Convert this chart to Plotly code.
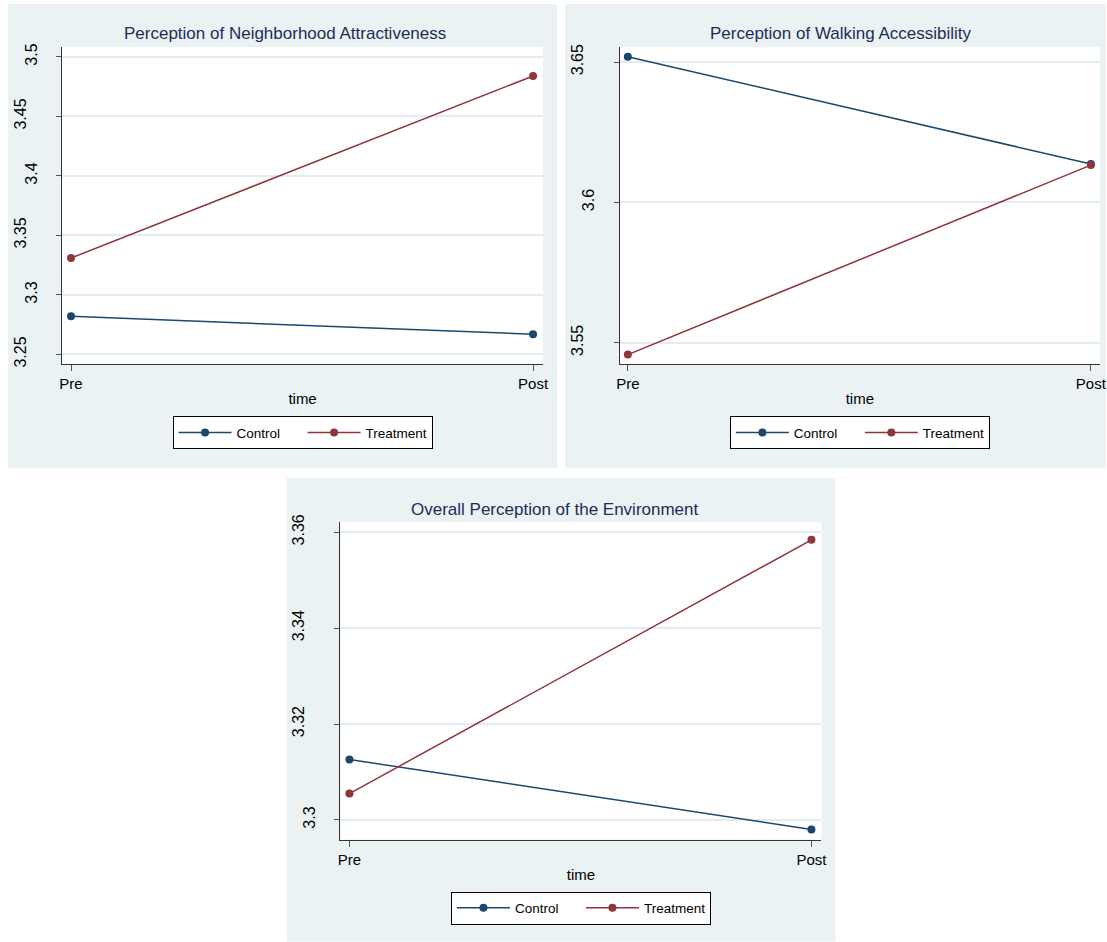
import plotly.graph_objects as go

W, H = 1107, 942

time_labels = ["Pre", "Post"]
time_pos = [0, 1]
groups = ["Control", "Treatment"]

titles = ["Perception of Neighborhood Attractiveness",
          "Perception of Walking Accessibility",
          "Overall Perception of the Environment"]

attract_control = [3.282, 3.267]
attract_treatment = [3.331, 3.484]
walk_control = [3.6519, 3.6137]
walk_treatment = [3.5458, 3.6133]
overall_control = [3.3126, 3.298]
overall_treatment = [3.3055, 3.3584]

y_ticks_1 = [3.25, 3.3, 3.35, 3.4, 3.45, 3.5]
y_ticks_2 = [3.55, 3.6, 3.65]
y_ticks_3 = [3.3, 3.32, 3.34, 3.36]

NAVY = "#1a476f"
MAROON = "#90353b"
BG = "#eaf2f3"
FONT = "Liberation Sans, Arial, sans-serif"

# layout geometry in (screen) pixels
panels = [
    dict(bg=(7, 3, 557, 468), plot=(61, 46, 543, 364), yr=[3.2416, 3.5084],
         xr=[-0.0194, 1.0216], title_x=284, title_y=33, ticks=y_ticks_1,
         legend_top=416, data=(attract_control, attract_treatment)),
    dict(bg=(565, 3, 1107, 468), plot=(620, 46, 1101, 364), yr=[3.5423, 3.6554],
         xr=[-0.0172, 1.0194], title_x=842, title_y=33, ticks=y_ticks_2,
         legend_top=416, data=(walk_control, walk_treatment)),
    dict(bg=(286, 478, 836, 942), plot=(340, 522, 822, 840), yr=[3.2959, 3.3621],
         xr=[-0.0194, 1.0216], title_x=555, title_y=509, ticks=y_ticks_3,
         legend_top=892, data=(overall_control, overall_treatment)),
]

# the photographed page maps figure px -> screen px slightly; invert it
OX, SX = 2.8, 0.9922
OY, SY = 7.0, 0.99


def px_x(x):
    return ((x - OX) / SX) / W


def px_y(y):
    return 1 - ((y - OY) / SY) / H


def label(t):
    return f"{t:g}"


fig = go.Figure()
shapes = []
annotations = []
layout_extra = {}

for i, p in enumerate(panels):
    n = "" if i == 0 else str(i + 1)
    xa, ya = "x" + n, "y" + n
    yov = "y" + str(i + 4)
    leg = "legend" + n
    bx0, by0, bx1, by1 = p["bg"]
    px0, py0, px1, py1 = p["plot"]
    shapes.append(dict(type="rect", xref="paper", yref="paper", layer="below",
                       x0=px_x(bx0), x1=px_x(bx1), y0=px_y(by1), y1=px_y(by0),
                       fillcolor=BG, line=dict(width=0)))
    shapes.append(dict(type="rect", xref="paper", yref="paper", layer="below",
                       x0=px_x(px0), x1=px_x(px1), y0=px_y(py1), y1=px_y(py0),
                       fillcolor="white", line=dict(width=0)))
    ctrl, trt = p["data"]
    for name, vals, col in [(groups[0], ctrl, NAVY), (groups[1], trt, MAROON)]:
        fig.add_trace(go.Scatter(x=time_pos, y=vals, mode="lines+markers", name=name,
                                 xaxis=xa, yaxis=ya, legend=leg,
                                 line=dict(color=col, width=1.5),
                                 marker=dict(color=col, size=8)))
    # invisible companion trace so the overlay label axis is drawn
    fig.add_trace(go.Scatter(x=time_pos, y=ctrl, mode="lines", xaxis=xa, yaxis=yov,
                             showlegend=False, hoverinfo="skip", opacity=0,
                             line=dict(width=0)))
    ticks = p["ticks"]
    long_text = [label(t) if len(label(t)) > 3 else "" for t in ticks]
    short_vals = [t for t in ticks if len(label(t)) <= 3]
    layout_extra["xaxis" + n] = dict(
        domain=[px_x(px0), px_x(px1)], anchor=ya, range=p["xr"],
        tickvals=time_pos, ticktext=time_labels, showgrid=False, zeroline=False,
        showline=True, linecolor="#333333", linewidth=1.2,
        ticks="outside", ticklen=6, tickcolor="#555555",
        ticklabeloverflow="allow",
        tickfont=dict(size=15, color="black", family=FONT),
        title=dict(text="time", font=dict(size=15, color="black", family=FONT), standoff=2),
    )
    common_y = dict(
        domain=[px_y(py1), px_y(py0)], anchor=xa, range=p["yr"], zeroline=False,
        ticks="outside", ticklen=5, tickcolor="#555555", tickangle=-90,
        tickfont=dict(size=16, color="black", family=FONT),
    )
    layout_extra["yaxis" + n] = dict(
        **common_y,
        tickvals=ticks, ticktext=long_text,
        showgrid=True, gridcolor="#e3ecee", gridwidth=1.5,
        showline=True, linecolor="#333333", linewidth=1.2,
        ticklabelstandoff=24,
    )
    layout_extra["yaxis" + str(i + 4)] = dict(
        **common_y, overlaying=ya, side="left",
        tickvals=short_vals, ticktext=[label(t) for t in short_vals],
        showgrid=False, showline=False, ticklabelstandoff=13,
    )
    layout_extra[leg] = dict(
        orientation="h", x=px_x((px0 + px1) / 2), xanchor="center",
        y=px_y(p["legend_top"]), yanchor="top",
        bgcolor="white", bordercolor="black", borderwidth=1,
        font=dict(size=13.5, color="black", family=FONT),
        entrywidth=61, itemwidth=53, tracegroupgap=0,
    )
    annotations.append(dict(text=titles[i], xref="paper", yref="paper",
                            x=px_x(p["title_x"]), y=px_y(p["title_y"]),
                            xanchor="center", yanchor="middle", showarrow=False,
                            font=dict(size=17, color="#1e2d57", family=FONT)))

fig.update_layout(
    width=W, height=H, margin=dict(l=0, r=0, t=0, b=0),
    paper_bgcolor="white", plot_bgcolor="rgba(0,0,0,0)",
    shapes=shapes, annotations=annotations, font=dict(family=FONT),
    **layout_extra,
)

fig.write_html("out.html", config={"displayModeBar": False},
               post_script="document.body.style.margin='0';document.body.style.overflow='hidden';")
